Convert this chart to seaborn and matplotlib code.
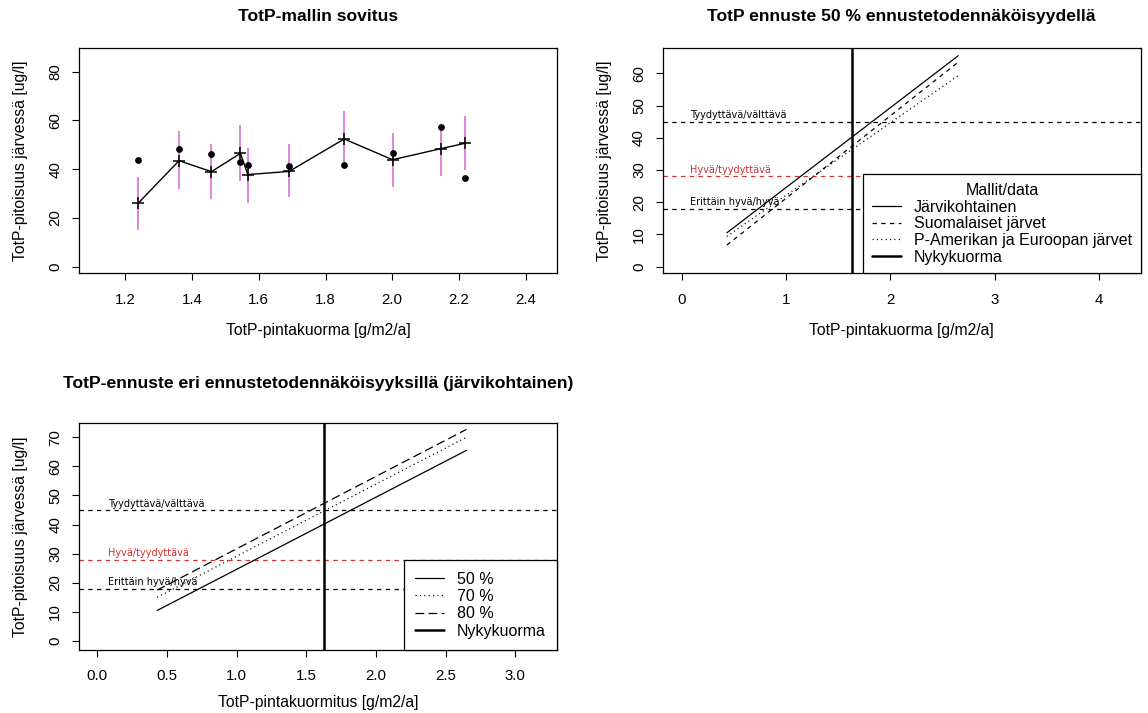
import matplotlib
matplotlib.use("Agg")

import matplotlib.pyplot as plt
import numpy as np
import seaborn as sns

# --- Kuva 1: TotP-mallin sovitus (havainnot, sovite ja vaihteluväli) ---
kuorma = [1.238, 1.361, 1.458, 1.545, 1.567, 1.691, 1.856, 2.001, 2.145, 2.217]
havaittu = [43.6, 48.1, 46.2, 43.1, 41.9, 41.3, 41.9, 46.8, 57.3, 36.5]
sovite = [26.0, 43.5, 39.0, 46.5, 37.8, 39.1, 52.4, 43.9, 48.4, 50.6]
sovite_ala = [15.0, 31.7, 27.6, 35.1, 26.3, 28.5, 41.0, 32.6, 37.3, 39.7]
sovite_yla = [36.9, 55.7, 50.3, 58.1, 48.8, 50.3, 63.9, 54.7, 58.1, 61.8]

# --- Ennustesuorat (kuormitus -> pitoisuus) ---
kuorma_ennuste = [0.43, 2.65]
jarvikohtainen = [10.5, 65.5]
suomalaiset = [6.7, 63.5]
pam_eur = [9.4, 59.3]
ennuste_70 = [15.0, 70.0]
ennuste_80 = [17.5, 72.7]
nykykuorma = 1.63

# --- Luokkarajat ---
raja_arvot = [45, 28, 18]
raja_nimet = ["Tyydyttävä/välttävä", "Hyvä/tyydyttävä", "Erittäin hyvä/hyvä"]
raja_varit = ["black", "#d03030", "black"]

W, H = 1148, 713

sns.set_style("ticks")
plt.rcParams["font.family"] = ["Liberation Sans", "DejaVu Sans"]
plt.rcParams.update({
    "axes.edgecolor": "black",
    "axes.linewidth": 0.9,
    "xtick.color": "black",
    "ytick.color": "black",
    "text.color": "black",
    "axes.labelcolor": "black",
})

LYHYT = (0, (3.5, 3.5))
PISTE = (0, (0.9, 2.6))
PITKA = (0, (7, 3.5))


def _akselit(ax, xlim, ylim, xticks, yticks, xlabel, ylabel, title, title_y, xlab_y):
    ax.set_xlim(xlim)
    ax.set_ylim(ylim)
    ax.set_xticks(xticks)
    ax.set_yticks(yticks)
    ax.tick_params(length=5, width=0.8, labelsize=10.8, pad=9)
    ax.tick_params(axis="y", labelrotation=90, pad=7)
    for lab in ax.get_yticklabels():
        lab.set_va("center")
    ax.set_xlabel(xlabel, fontsize=11.3)
    ax.set_ylabel(ylabel, fontsize=11.3)
    ax.xaxis.set_label_coords(0.5, xlab_y)
    ax.xaxis.label.set_va("center")
    ax.yaxis.set_label_coords(-0.122, 0.5)
    ax.yaxis.label.set_va("center")
    ax.set_title(title, fontsize=12.6, fontweight="bold", y=title_y, va="center", pad=0)
    for s in ax.spines.values():
        s.set_visible(True)


def _rajat(ax):
    for arvo, nimi, vari in zip(raja_arvot, raja_nimet, raja_varit):
        ax.axhline(arvo, color=vari, lw=0.9, ls=LYHYT, zorder=1)
        ax.annotate(nimi, (0.08, arvo), xytext=(0, 1), textcoords="offset points",
                    ha="left", va="bottom", fontsize=7, color=vari, family="DejaVu Sans")


fig = plt.figure(figsize=(W / 100, H / 100), dpi=100)
ax1 = fig.add_axes([79 / W, 1 - 273.3 / H, 478 / W, 225 / H])
ax2 = fig.add_axes([662.7 / W, 1 - 273.3 / H, 478 / W, 225 / H])
ax3 = fig.add_axes([79 / W, 1 - 650 / H, 478 / W, 227 / H])

# Kuva 1
ax1.vlines(kuorma, sovite_ala, sovite_yla, color="orchid", lw=1.2, zorder=1)
sns.lineplot(x=kuorma, y=sovite, ax=ax1, color="black", lw=1, marker="+",
             markersize=9, markeredgewidth=1.1, markeredgecolor="black", zorder=2)
sns.scatterplot(x=kuorma, y=havaittu, ax=ax1, color="black", s=24, linewidth=0, zorder=3)
_akselit(ax1, (1.061, 2.494), (-2.7, 89.6), np.arange(1.2, 2.41, 0.2), range(0, 81, 20),
         "TotP-pintakuorma [g/m2/a]", "TotP-pitoisuus järvessä [ug/l]",
         "TotP-mallin sovitus", 1.14, -0.253)

# Kuva 2
_rajat(ax2)
sns.lineplot(x=kuorma_ennuste, y=jarvikohtainen, ax=ax2, color="black", lw=0.9,
             label="Järvikohtainen")
sns.lineplot(x=kuorma_ennuste, y=suomalaiset, ax=ax2, color="black", lw=0.9,
             ls=LYHYT, label="Suomalaiset järvet")
sns.lineplot(x=kuorma_ennuste, y=pam_eur, ax=ax2, color="black", lw=0.9,
             ls=PISTE, label="P-Amerikan ja Euroopan järvet")
ax2.axvline(nykykuorma, color="black", lw=1.8, label="Nykykuorma")
_akselit(ax2, (-0.185, 4.40), (-2.06, 67.8), range(0, 5), range(0, 61, 10),
         "TotP-pintakuorma [g/m2/a]", "TotP-pitoisuus järvessä [ug/l]",
         "TotP ennuste 50 % ennustetodennäköisyydellä", 1.14, -0.253)
leg = ax2.legend(title="Mallit/data", loc="lower right", bbox_to_anchor=(1, 0),
                 borderaxespad=0, fancybox=False, framealpha=1, edgecolor="black",
                 fontsize=11.5, title_fontsize=11.5, handlelength=1.8, handletextpad=0.8,
                 borderpad=0.55, labelspacing=0.1)
leg.get_frame().set_linewidth(0.9)

# Kuva 3
_rajat(ax3)
sns.lineplot(x=kuorma_ennuste, y=jarvikohtainen, ax=ax3, color="black", lw=0.9, label="50 %")
sns.lineplot(x=kuorma_ennuste, y=ennuste_70, ax=ax3, color="black", lw=0.9, ls=PISTE,
             label="70 %")
sns.lineplot(x=kuorma_ennuste, y=ennuste_80, ax=ax3, color="black", lw=0.9, ls=PITKA,
             label="80 %")
ax3.axvline(nykykuorma, color="black", lw=1.8, label="Nykykuorma")
_akselit(ax3, (-0.131, 3.30), (-3.08, 74.9), np.arange(0, 3.01, 0.5), range(0, 71, 10),
         "TotP-pintakuormitus [g/m2/a]", "TotP-pitoisuus järvessä [ug/l]",
         "TotP-ennuste eri ennustetodennäköisyyksillä (järvikohtainen)", 1.176, -0.233)
leg = ax3.legend(loc="lower right", bbox_to_anchor=(1, 0), borderaxespad=0, fancybox=False,
                 framealpha=1, edgecolor="black", fontsize=11.5, handlelength=1.8,
                 handletextpad=0.8, borderpad=0.7, labelspacing=0.15)
leg.get_frame().set_linewidth(0.9)

fig.savefig("out.png", dpi=100)
